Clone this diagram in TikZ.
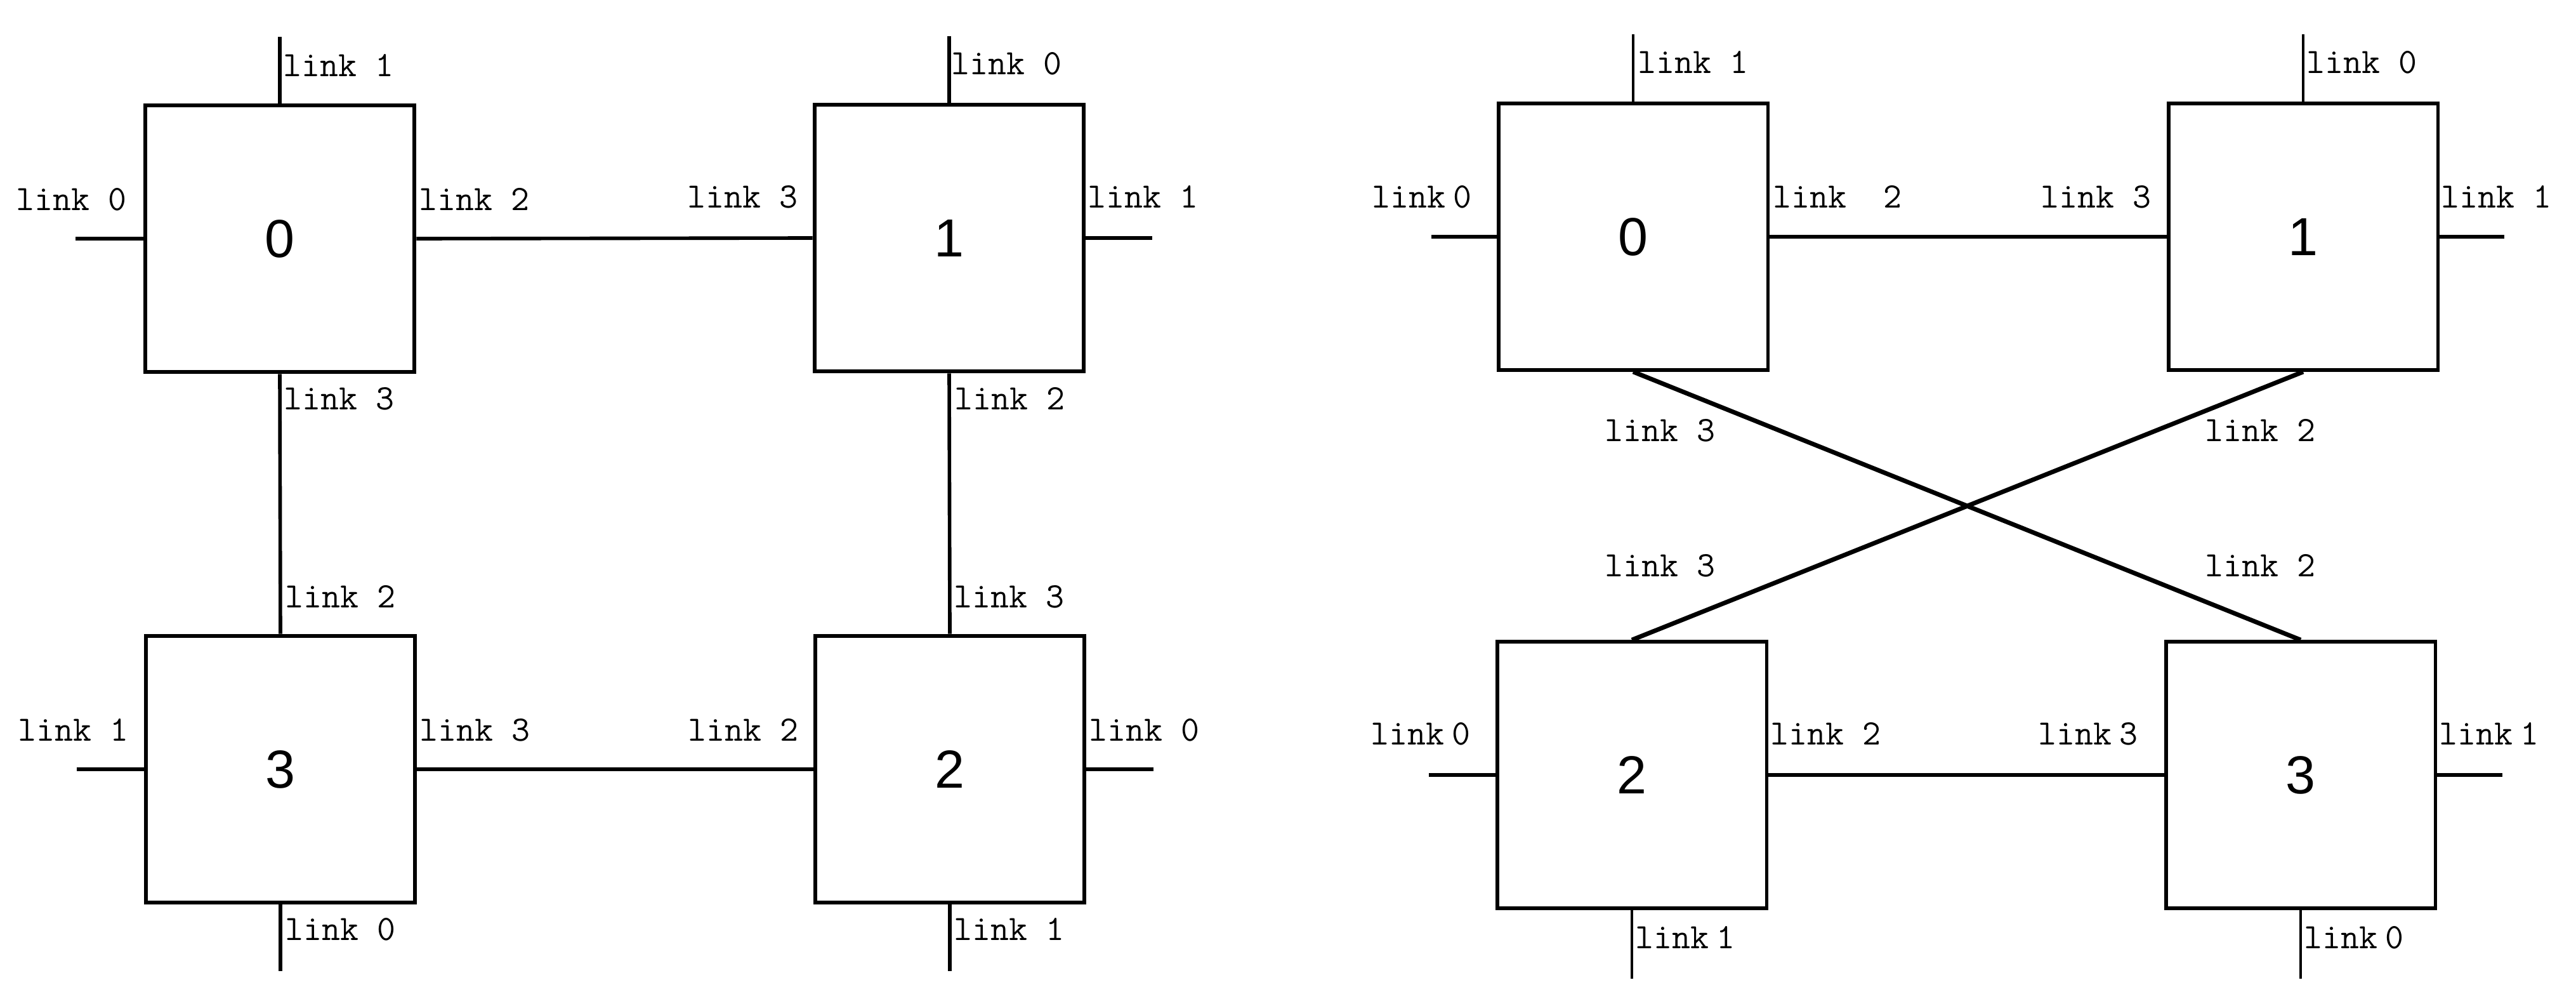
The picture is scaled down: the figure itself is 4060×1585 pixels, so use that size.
\documentclass[tikz,border=0pt]{standalone}
\usepackage{fontspec}
\newfontfamily\digitfont{Liberation Sans}
\begin{document}
\begin{tikzpicture}[x=0.01cm,y=-0.01cm,
  box/.style={draw, line width=1.8pt, minimum width=4.24cm, minimum height=4.2cm, inner sep=0pt,
    font={\fontsize{24}{28}\selectfont\digitfont}},
  rbox/.style={box, line width=1.5pt},
  lbl/.style={inner sep=0pt, anchor=west, font={\fontsize{16}{18}\selectfont\ttfamily}},
  wire/.style={line width=1.6pt},
  rwire/.style={line width=1.5pt},
  thin wire/.style={line width=1.1pt},
  cross/.style={line width=2pt}]
\useasboundingbox (0,0) rectangle (4060,1585);
% ---------- left diagram ----------
\node[box] (B0) at (441,376) {0};
\node[box] (B1) at (1496,375) {1};
\node[box] (B3) at (442,1212) {3};
\node[box] (B2) at (1497,1212) {2};
\coordinate (B0t) at (441,58);
\coordinate (B0l) at (119,376);
\coordinate (B1t) at (1496,57);
\coordinate (B1r) at (1816,375);
\coordinate (B3l) at (121,1212);
\coordinate (B3b) at (442,1530);
\coordinate (B2r) at (1818,1212);
\coordinate (B2b) at (1497,1530);
\draw[wire] (B0.north) -- (B0t);
\draw[wire] (B0.west) -- (B0l);
\draw[wire] (B0.east) -- (B1.west);
\draw[wire] (B0.south) -- (B3.north);
\draw[wire] (B1.north) -- (B1t);
\draw[wire] (B1.east) -- (B1r);
\draw[wire] (B1.south) -- (B2.north);
\draw[wire] (B3.west) -- (B3l);
\draw[wire] (B3.east) -- (B2.west);
\draw[wire] (B3.south) -- (B3b);
\draw[wire] (B2.east) -- (B2r);
\draw[wire] (B2.south) -- (B2b);
% labels box 0
\node[lbl] (a1) at (446,103) {link 1};
\node[lbl] (a2) at (25,314) {link 0};
\node[lbl] (a3) at (660,314) {link 2};
\node[lbl] (a4) at (447,628) {link 3};
% labels box 1
\node[lbl] (a5) at (1499,100) {link 0};
\node[lbl] (a6) at (1083,310) {link 3};
\node[lbl] (a7) at (1714,310) {link 1};
\node[lbl] (a8) at (1504,628) {link 2};
% labels box 3
\node[lbl] (a9) at (449,940) {link 2};
\node[lbl] (a10) at (28,1150) {link 1};
\node[lbl] (a11) at (661,1150) {link 3};
\node[lbl] (a12) at (449,1464) {link 0};
% labels box 2
\node[lbl] (a13) at (1503,940) {link 3};
\node[lbl] (a14) at (1084,1150) {link 2};
\node[lbl] (a15) at (1716,1150) {link 0};
\node[lbl] (a16) at (1503,1464) {link 1};
% ---------- right diagram ----------
\node[rbox] (R0) at (2574,373) {0};
\node[rbox] (R1) at (3630,373) {1};
\node[rbox] (R2) at (2572,1221) {2};
\node[rbox] (R3) at (3626,1221) {3};
\coordinate (R0t) at (2574,54);
\coordinate (R0l) at (2256,373);
\coordinate (R1t) at (3630,54);
\coordinate (R1r) at (3947,373);
\coordinate (R2l) at (2252,1221);
\coordinate (R2b) at (2572,1542);
\coordinate (R3r) at (3944,1221);
\coordinate (R3b) at (3626,1542);
\draw[thin wire] (R0.north) -- (R0t);
\draw[rwire] (R0.west) -- (R0l);
\draw[rwire] (R0.east) -- (R1.west);
\draw[thin wire] (R1.north) -- (R1t);
\draw[rwire] (R1.east) -- (R1r);
\draw[rwire] (R2.west) -- (R2l);
\draw[rwire] (R2.east) -- (R3.west);
\draw[thin wire] (R2.south) -- (R2b);
\draw[rwire] (R3.east) -- (R3r);
\draw[thin wire] (R3.south) -- (R3b);
\draw[cross] (R0.south) -- (R3.north);
\draw[cross] (R1.south) -- (R2.north);
% labels
\node[lbl] (b1) at (2581,98) {link 1};
\node[lbl] (b2) at (2162,310) {link\kern-0.3em\ 0};
\node[lbl] (b3) at (2794,310) {link\ \ 2};
\node[lbl] (b4) at (3216,310) {link 3};
\node[lbl] (b5) at (3635,98) {link 0};
\node[lbl] (b6) at (3847,310) {link 1};
\node[lbl] (b7) at (2529,678) {link 3};
\node[lbl] (b8) at (3475,678) {link 2};
\node[lbl] (b9) at (2529,891) {link 3};
\node[lbl] (b10) at (3475,891) {link 2};
\node[lbl] (b11) at (2160,1156) {link\kern-0.3em\ 0};
\node[lbl] (b12) at (2790,1156) {link 2};
\node[lbl] (b13) at (2577,1477) {link\kern-0.3em\ 1};
\node[lbl] (b14) at (3212,1156) {link\kern-0.3em\ 3};
\node[lbl] (b15) at (3844,1156) {link\kern-0.3em\ 1};
\node[lbl] (b16) at (3631,1477) {link\kern-0.3em\ 0};
\end{tikzpicture}
\end{document}
